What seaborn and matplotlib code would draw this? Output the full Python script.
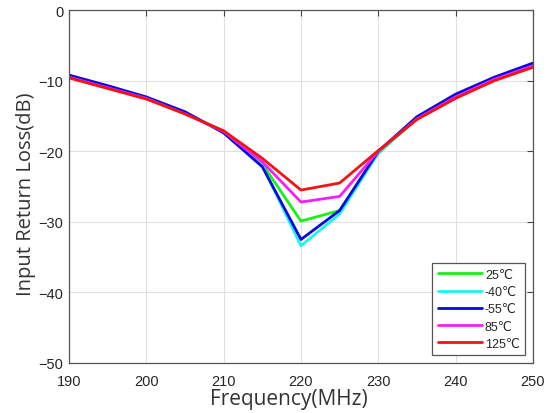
import numpy as np
import pandas as pd
import matplotlib
matplotlib.use("Agg")
import matplotlib.pyplot as plt
import seaborn as sns

freq = [190, 195, 200, 205, 210, 215, 220, 225, 230, 235, 240, 245, 250]
s25 = [-9.4, -10.9, -12.4, -14.6, -17.2, -21.8, -29.9, -28.4, -20.3, -15.3, -12.1, -9.7, -7.7]
sm40 = [-9.3, -10.8, -12.4, -14.5, -17.3, -22.0, -33.4, -28.9, -20.2, -15.2, -12.0, -9.6, -7.6]
sm55 = [-9.2, -10.7, -12.3, -14.4, -17.4, -22.2, -32.5, -28.4, -20.0, -15.1, -11.9, -9.5, -7.5]
s85 = [-9.5, -11.0, -12.5, -14.7, -17.2, -21.5, -27.2, -26.4, -20.0, -15.4, -12.3, -9.8, -7.9]
s125 = [-9.6, -11.1, -12.6, -14.7, -17.1, -21.0, -25.5, -24.5, -19.9, -15.5, -12.5, -10.0, -8.1]
labels = ["25℃", "-40℃", "-55℃", "85℃", "125℃"]
colors = ["#19f019", "#19f5f5", "#0a0adc", "#f51ef5", "#f01414"]

series = [s25, sm40, sm55, s85, s125]
df = pd.concat([pd.DataFrame({"freq": freq, "val": s, "temp": lab})
                for s, lab in zip(series, labels)], ignore_index=True)

sns.set_style("white")
plt.rcParams['font.family'] = ['Liberation Sans', 'DejaVu Sans']

fig = plt.figure(figsize=(5.5, 4.14), dpi=100)
ax = fig.add_axes([0.1255, 0.121, 0.8435, 0.852])

sns.lineplot(data=df, x="freq", y="val", hue="temp", hue_order=labels,
             palette=dict(zip(labels, colors)), linewidth=2.0, ax=ax,
             sort=False, estimator=None)

ax.set_xlim(190, 250)
ax.set_ylim(-50, 0)
ax.set_xticks(np.arange(190, 251, 10))
ax.set_yticks(np.arange(-50, 1, 10))
ax.grid(True, color="#e0e0e0", linewidth=0.8)
ax.tick_params(direction="in", top=True, right=True, length=4, width=0.8,
               color="#444444", labelsize=10.5)
ax.tick_params(axis="x", pad=8)
ax.tick_params(axis="y", pad=4)
for sp in ax.spines.values():
    sp.set_color("#555555")
    sp.set_linewidth(0.9)

ax.set_xlabel("Frequency(MHz)", fontsize=15, family=["Open Sans", "DejaVu Sans"],
              color="#333333", labelpad=0, x=0.474)
ax.set_ylabel("Input Return Loss(dB)", fontsize=14.5, family=["Open Sans", "DejaVu Sans"],
              color="#333333", labelpad=2, y=0.48)

leg = ax.legend(loc="lower right", fontsize=9, frameon=True, fancybox=False,
                edgecolor="#555555", framealpha=1, borderaxespad=0.6,
                handlelength=3.5, handletextpad=0.25, labelspacing=0.42,
                borderpad=0.45)
leg.get_frame().set_linewidth(0.9)

fig.savefig("out.png", dpi=100)
